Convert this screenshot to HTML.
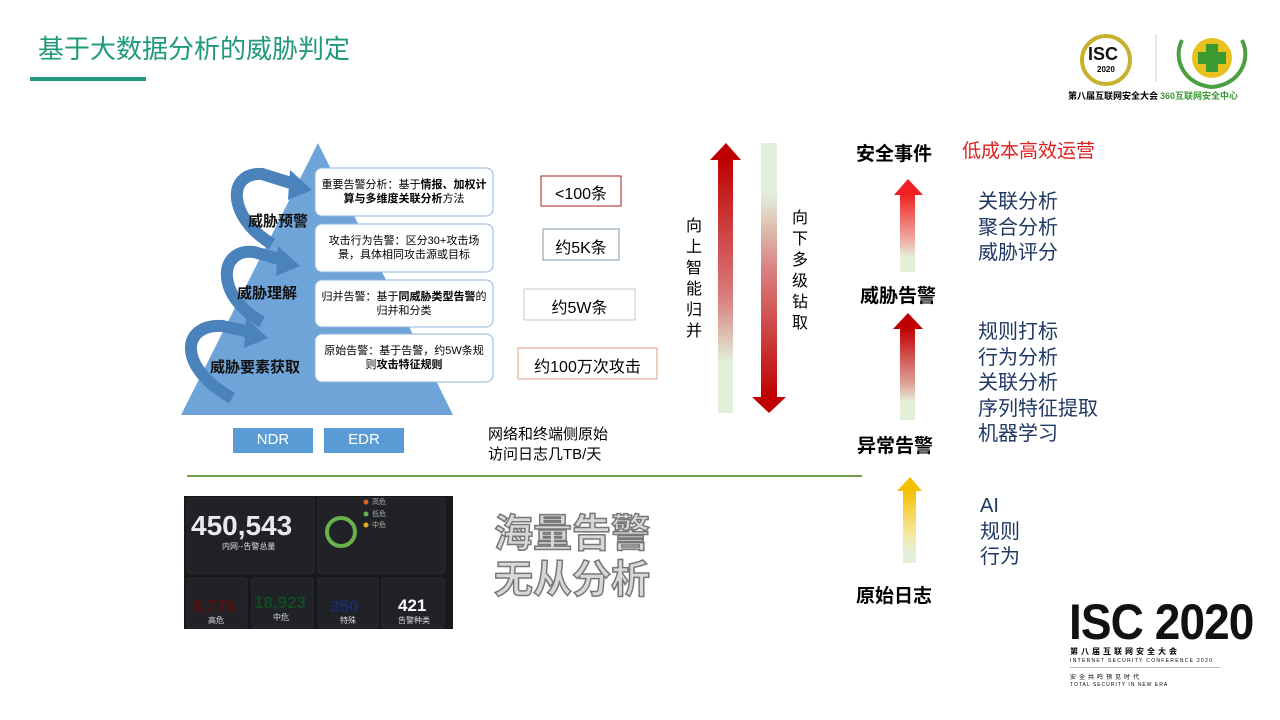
<!DOCTYPE html>
<html><head><meta charset="utf-8"><style>
body{margin:0;width:1280px;height:720px;background:#fff;overflow:hidden;font-family:"Liberation Sans","Noto Sans CJK SC",sans-serif;}
.a{position:absolute;white-space:nowrap}
</style></head><body>
<div style="position:relative;width:1280px;height:720px">
<svg width="1280" height="720" style="position:absolute;left:0;top:0">
<defs>
<linearGradient id="up" x1="0" y1="0" x2="0" y2="1"><stop offset="0" stop-color="#c00000"/><stop offset="0.55" stop-color="#d98080"/><stop offset="0.8" stop-color="#e2efd9"/><stop offset="1" stop-color="#e2efd9"/></linearGradient>
<linearGradient id="dn" x1="0" y1="0" x2="0" y2="1"><stop offset="0" stop-color="#e2efd9"/><stop offset="0.2" stop-color="#e2efd9"/><stop offset="0.5" stop-color="#d98080"/><stop offset="1" stop-color="#c00000"/></linearGradient>
<linearGradient id="r1" x1="0" y1="0" x2="0" y2="1"><stop offset="0" stop-color="#f02020"/><stop offset="0.6" stop-color="#f0b0a8"/><stop offset="0.8" stop-color="#e2efd9"/><stop offset="1" stop-color="#e2efd9"/></linearGradient>
<linearGradient id="r2" x1="0" y1="0" x2="0" y2="1"><stop offset="0" stop-color="#c00000"/><stop offset="0.6" stop-color="#e0a098"/><stop offset="0.8" stop-color="#e2efd9"/><stop offset="1" stop-color="#e2efd9"/></linearGradient>
<linearGradient id="y1" x1="0" y1="0" x2="0" y2="1"><stop offset="0" stop-color="#f5c000"/><stop offset="0.6" stop-color="#f5e8a0"/><stop offset="0.85" stop-color="#e2efd9"/><stop offset="1" stop-color="#e2efd9"/></linearGradient>
</defs>
<rect x="30" y="77" width="116" height="4" fill="#1f9a7a"/>
<polygon points="318,143 181,415 453,415" fill="#6fa4d8"/>
<g fill="none" stroke="#4a82bc" stroke-width="12" stroke-linecap="butt">
<path d="M272,244 C228,218 226,172 262,174 L294,184"/>
<path d="M262,322 C215,296 218,248 254,252 L282,260"/>
<path d="M232,398 C178,368 180,324 222,326 L250,332"/>
</g>
<g fill="#4a82bc">
<polygon points="290,170 312,190 288,200"/>
<polygon points="278,246 300,266 276,276"/>
<polygon points="246,318 268,338 244,348"/>
</g>
<g fill="#fff" stroke="#8fb4dc" stroke-width="1">
<rect x="315" y="168" width="178" height="48" rx="7"/>
<rect x="315" y="224" width="178" height="48" rx="7"/>
<rect x="315" y="280" width="178" height="47" rx="7"/>
<rect x="315" y="334" width="178" height="48" rx="7"/>
</g>
<rect x="541" y="176" width="80" height="30" fill="#fff" stroke="#a02020"/>
<rect x="543" y="229" width="76" height="31" fill="#fff" stroke="#8095a8"/>
<rect x="524" y="289" width="111" height="31" fill="#fff" stroke="#c8c8c8"/>
<rect x="518" y="348" width="139" height="31" fill="#fff" stroke="#e0a080"/>
<rect x="233" y="428" width="80" height="25" fill="#5b9bd5"/>
<rect x="324" y="428" width="80" height="25" fill="#5b9bd5"/>
<line x1="187" y1="476" x2="862" y2="476" stroke="#70a050" stroke-width="2"/>
<rect x="718" y="160" width="15" height="253" fill="url(#up)"/>
<polygon points="710,160 726,143 741,160" fill="#c00000"/>
<rect x="761" y="143" width="16" height="255" fill="url(#dn)"/>
<polygon points="752,397 769,413 786,397" fill="#c00000"/>
<rect x="900" y="194" width="15" height="78" fill="url(#r1)"/>
<polygon points="894,195 908,179 923,195" fill="#f02020"/>
<rect x="900" y="328" width="15" height="92" fill="url(#r2)"/>
<polygon points="893,329 908,313 923,329" fill="#c00000"/>
<rect x="903" y="490" width="13" height="73" fill="url(#y1)"/>
<polygon points="897,491 910,477 922,491" fill="#f5c000"/>
<rect x="184" y="496" width="269" height="133" fill="#18191d"/>
<g fill="#202227" stroke="#2a2c31">
<rect x="187" y="498" width="127" height="75" rx="2"/>
<rect x="318" y="498" width="127" height="75" rx="2"/>
<rect x="187" y="578" width="60" height="50" rx="2"/>
<rect x="252" y="578" width="61" height="50" rx="2"/>
<rect x="318" y="578" width="60" height="50" rx="2"/>
<rect x="382" y="578" width="62" height="50" rx="2"/>
</g>
<circle cx="341" cy="532" r="14" fill="none" stroke="#6ab04c" stroke-width="4"/>
<circle cx="366" cy="502" r="2.5" fill="#e06020"/><circle cx="366" cy="514" r="2.5" fill="#6ab04c"/><circle cx="366" cy="525" r="2.5" fill="#e0b020"/>
<circle cx="1106" cy="60" r="24" fill="none" stroke="#c8b030" stroke-width="4"/>
<line x1="1156" y1="34" x2="1156" y2="82" stroke="#ccc"/>
<circle cx="1212" cy="58" r="20" fill="#e8c020"/>
<rect x="1206" y="44" width="12" height="28" fill="#3a9a30"/><rect x="1198" y="52" width="28" height="12" fill="#3a9a30"/>
<path d="M1182,40 C1172,60 1185,85 1212,87 C1239,85 1252,60 1242,40" fill="none" stroke="#4aa040" stroke-width="4"/>
</svg>
<div class="a" style="left:38px;top:29px;font-size:26px;color:#1f9a7a">基于大数据分析的威胁判定</div>
<div class="a" style="left:1088px;top:44px;font-size:18px;font-weight:bold;color:#111">ISC</div>
<div class="a" style="left:1097px;top:65px;font-size:8px;font-weight:bold">2020</div>
<div class="a" style="left:1068px;top:89px;font-size:9px;font-weight:bold">第八届互联网安全大会</div>
<div class="a" style="left:1160px;top:89px;font-size:9px;font-weight:bold;color:#3a9a30">360互联网安全中心</div>

<div class="a" style="left:248px;top:210px;font-size:15px;font-weight:bold;color:#111">威胁预警</div>
<div class="a" style="left:237px;top:282px;font-size:15px;font-weight:bold;color:#111">威胁理解</div>
<div class="a" style="left:210px;top:356px;font-size:15px;font-weight:bold;color:#111">威胁要素获取</div>
<div class="a" style="left:320px;top:178px;width:168px;font-size:11px;line-height:14px;text-align:center;white-space:normal">重要告警分析：基于<b>情报、加权计算与多维度关联分析</b>方法</div>
<div class="a" style="left:320px;top:234px;width:168px;font-size:11px;line-height:14px;text-align:center;white-space:normal">攻击行为告警：区分30+攻击场景，具体相同攻击源或目标</div>
<div class="a" style="left:320px;top:290px;width:168px;font-size:11px;line-height:14px;text-align:center;white-space:normal">归并告警：基于<b>同威胁类型告警</b>的归并和分类</div>
<div class="a" style="left:320px;top:344px;width:168px;font-size:11px;line-height:14px;text-align:center;white-space:normal">原始告警：基于告警，约5W条规则<b>攻击特征规则</b></div>
<div class="a" style="left:541px;top:180px;width:80px;text-align:center;font-size:16px">&lt;100条</div>
<div class="a" style="left:543px;top:234px;width:76px;text-align:center;font-size:16px">约5K条</div>
<div class="a" style="left:524px;top:294px;width:111px;text-align:center;font-size:16px">约5W条</div>
<div class="a" style="left:518px;top:353px;width:139px;text-align:center;font-size:16px">约100万次攻击</div>
<div class="a" style="left:233px;top:431px;width:80px;text-align:center;font-size:15px;color:#fff">NDR</div>
<div class="a" style="left:324px;top:431px;width:80px;text-align:center;font-size:15px;color:#fff">EDR</div>
<div class="a" style="left:488px;top:425px;font-size:15px;line-height:20px">网络和终端侧原始<br>访问日志几TB/天</div>

<div class="a" style="left:686px;top:216px;width:18px;font-size:16px;line-height:21px;white-space:normal">向上智能归并</div>
<div class="a" style="left:792px;top:208px;width:18px;font-size:16px;line-height:21px;white-space:normal">向下多级钻取</div>

<div class="a" style="left:856px;top:139px;font-size:19px;font-weight:bold">安全事件</div>
<div class="a" style="left:962px;top:136px;font-size:19px;color:#e02020">低成本高效运营</div>
<div class="a" style="left:860px;top:281px;font-size:19px;font-weight:bold">威胁告警</div>
<div class="a" style="left:857px;top:431px;font-size:19px;font-weight:bold">异常告警</div>
<div class="a" style="left:856px;top:581px;font-size:19px;font-weight:bold">原始日志</div>
<div class="a" style="left:978px;top:190px;font-size:20px;line-height:25.5px;color:#1f3864">关联分析<br>聚合分析<br>威胁评分</div>
<div class="a" style="left:978px;top:320px;font-size:20px;line-height:25.5px;color:#1f3864">规则打标<br>行为分析<br>关联分析<br>序列特征提取<br>机器学习</div>
<div class="a" style="left:980px;top:494px;font-size:20px;line-height:25.5px;color:#1f3864">AI<br>规则<br>行为</div>

<div class="a" style="left:191px;top:510px;font-size:28px;font-weight:bold;color:#e8e8ee">450,543</div>
<div class="a" style="left:222px;top:541px;font-size:8px;color:#ddd">内网--告警总量</div>
<div class="a" style="left:372px;top:497px;font-size:7px;color:#aaa;line-height:11.5px">高危<br>低危<br>中危</div>
<div class="a" style="left:193px;top:597px;font-size:17px;font-weight:bold;color:#5a1010">8,776</div>
<div class="a" style="left:254px;top:593px;font-size:17px;font-weight:bold;color:#124a20">18,923</div>
<div class="a" style="left:330px;top:597px;font-size:17px;font-weight:bold;color:#1a2a6a">350</div>
<div class="a" style="left:398px;top:596px;font-size:17px;font-weight:bold;color:#fff">421</div>
<div class="a" style="left:208px;top:615px;font-size:8px;color:#ddd">高危</div>
<div class="a" style="left:273px;top:612px;font-size:8px;color:#ddd">中危</div>
<div class="a" style="left:340px;top:615px;font-size:8px;color:#ddd">特殊</div>
<div class="a" style="left:398px;top:615px;font-size:8px;color:#ddd">告警种类</div>

<div class="a" style="left:494px;top:512px;font-size:39px;line-height:46px;font-weight:bold;color:#d8d8d8;-webkit-text-stroke:1.5px #777">海量告警<br>无从分析</div>

<div class="a" style="left:1069px;top:594px;font-size:50px;line-height:56px;font-weight:bold;color:#111;letter-spacing:-1px;transform:scaleX(0.92);transform-origin:left">ISC 2020</div>
<div class="a" style="left:1070px;top:646px;font-size:8px;font-weight:bold;letter-spacing:3px">第八届互联网安全大会</div>
<div class="a" style="left:1070px;top:658px;font-size:5px;letter-spacing:1.3px">INTERNET SECURITY CONFERENCE 2020</div>
<div style="position:absolute;left:1070px;top:667px;width:150px;height:1px;background:#bbb"></div>
<div class="a" style="left:1070px;top:672px;font-size:6px;letter-spacing:3px">安全共鸣预见时代</div>
<div class="a" style="left:1070px;top:682px;font-size:5px;letter-spacing:1px">TOTAL SECURITY IN NEW ERA</div>
</div>
</body></html>
